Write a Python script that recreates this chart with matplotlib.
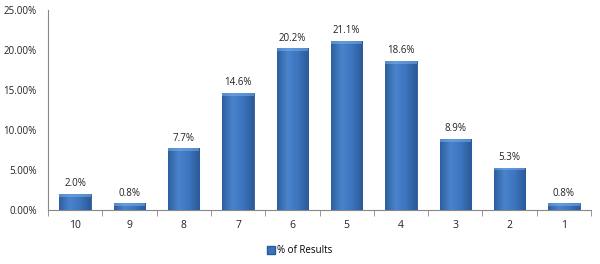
import matplotlib
matplotlib.use("Agg")
import matplotlib.pyplot as plt
import numpy as np
from matplotlib.patches import Patch

categories = ["10", "9", "8", "7", "6", "5", "4", "3", "2", "1"]
values = [2.0, 0.8, 7.7, 14.6, 20.2, 21.1, 18.6, 8.9, 5.3, 0.8]
yticks = [0, 5, 10, 15, 20, 25]

plt.rcParams['font.family'] = ['Open Sans', 'DejaVu Sans']
fig = plt.figure(figsize=(6, 2.64), dpi=100)
ax = fig.add_axes([0.08, 0.205, 0.905, 0.757])

x = np.arange(len(categories))
bars = ax.bar(x, values, width=0.58, color='#3b72b9', edgecolor='#2a5a98', linewidth=0.6, zorder=2)

# gradient shading on bars
grad = np.linspace(0, 1, 100).reshape(1, -1)
cmap = matplotlib.colors.LinearSegmentedColormap.from_list(
    'g', ['#2d5f9e', '#4a84cc', '#3c74bd', '#2a5a98'])
for b in bars:
    xx, w, h = b.get_x(), b.get_width(), b.get_height()
    im = ax.imshow(grad, extent=[xx, xx + w, 0, h], aspect='auto', cmap=cmap, zorder=3)
    im.set_clip_path(b)
    cap = min(0.35, h * 0.4)
    ax.add_patch(plt.Rectangle((xx, h - cap), w, cap, color='#79aee8', alpha=0.55, zorder=4, lw=0))

for xi, v in zip(x, values):
    ax.text(xi, v + 0.6, f"{v:.1f}%", ha='center', va='bottom', fontsize=7, color='#222222')

ax.set_xlim(-0.5, len(categories) - 0.5)
ax.set_ylim(0, 25)
ax.set_yticks(yticks)
ax.set_yticklabels([f"{t:.2f}%" for t in yticks], fontsize=7, color='#222222')
ax.set_xticks(x)
ax.set_xticklabels(categories, fontsize=7.5, color='#222222')
ax.tick_params(axis='x', length=0, pad=7)
ax.tick_params(axis='y', length=0, pad=8)
ax.set_xticks(np.arange(-0.5, len(categories) + 0.5, 1), minor=True)
ax.tick_params(axis='x', which='minor', length=4, color='#888888', direction='out')

for s in ['top', 'right']:
    ax.spines[s].set_visible(False)
ax.spines['left'].set_color('#888888')
ax.spines['bottom'].set_color('#888888')

handle = Patch(facecolor='#3b72b9', edgecolor='#2a5a98')
fig.legend([handle], ['% of Results'], loc='center', bbox_to_anchor=(0.5, 0.05),
           frameon=False, fontsize=7, handlelength=0.8, handleheight=0.8, handletextpad=0.2)

fig.savefig('out.png', dpi=100)
